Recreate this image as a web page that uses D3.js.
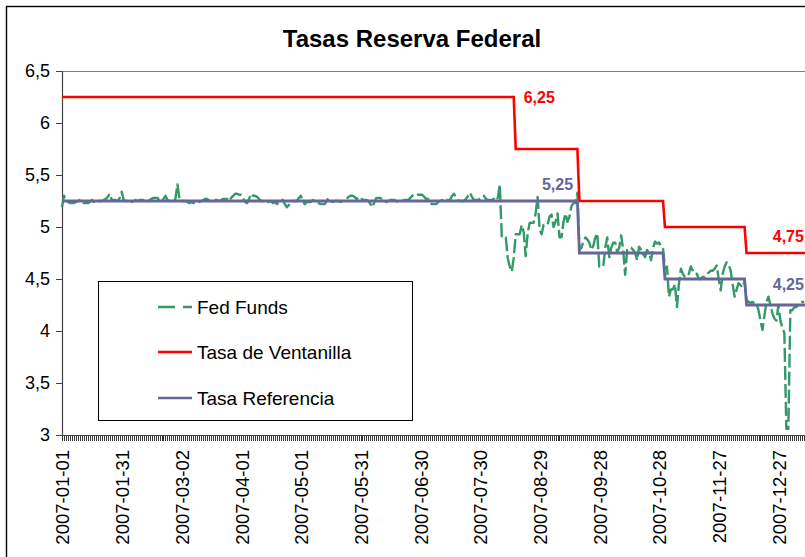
<!DOCTYPE html>
<html><head><meta charset="utf-8">
<script src="https://cdn.jsdelivr.net/npm/d3@7"></script>
<style>body{margin:0;background:#fff}svg{display:block}text{font-family:"Liberation Sans",Arial,sans-serif}</style>
</head><body><svg id="c" width="805" height="557"></svg>
<script>
// ---------- DATA ----------
const startDate = "2007-01-01";
const seriesEnd = "2008-01-10";
// Fed Funds effective rate, one value per calendar day from 2007-01-01
const fedFunds = [
  // Jan
  5.19,5.30,5.27,5.24,5.23,5.23,5.23,5.24,5.25,5.26,5.24,5.23,5.23,5.23,5.24,5.26,5.24,5.25,5.25,5.25,5.25,5.26,5.27,5.29,5.32,5.26,5.26,5.26,5.25,5.28,5.34,
  // Feb
  5.26,5.25,5.25,5.25,5.24,5.25,5.26,5.25,5.26,5.26,5.26,5.25,5.24,5.26,5.27,5.28,5.28,5.28,5.25,5.24,5.27,5.30,5.26,5.25,5.25,5.24,5.27,5.41,
  // Mar
  5.28,5.25,5.25,5.25,5.24,5.23,5.24,5.23,5.24,5.24,5.24,5.25,5.26,5.27,5.27,5.25,5.25,5.25,5.26,5.26,5.25,5.26,5.27,5.27,5.27,5.25,5.28,5.30,5.32,5.32,5.31,
  // Apr
  5.31,5.28,5.24,5.23,5.27,5.32,5.30,5.30,5.29,5.27,5.25,5.25,5.24,5.24,5.24,5.25,5.23,5.24,5.22,5.24,5.26,5.26,5.22,5.19,5.21,5.24,5.25,5.25,5.25,5.28,
  // May
  5.30,5.25,5.22,5.24,5.24,5.24,5.26,5.25,5.24,5.23,5.22,5.22,5.22,5.25,5.28,5.25,5.24,5.25,5.25,5.25,5.24,5.25,5.26,5.27,5.29,5.30,5.30,5.29,5.27,5.28,5.29,
  // Jun
  5.26,5.26,5.26,5.25,5.22,5.19,5.24,5.28,5.28,5.28,5.26,5.25,5.24,5.25,5.26,5.26,5.26,5.25,5.24,5.25,5.25,5.26,5.26,5.26,5.28,5.30,5.31,5.32,5.31,5.31,
  // Jul
  5.31,5.29,5.27,5.27,5.23,5.22,5.22,5.22,5.24,5.25,5.26,5.25,5.26,5.26,5.26,5.30,5.32,5.28,5.26,5.25,5.25,5.25,5.27,5.30,5.33,5.29,5.26,5.26,5.26,5.27,5.29,
  // Aug
  5.30,5.27,5.26,5.26,5.26,5.27,5.25,5.28,5.41,4.90,4.90,4.90,4.70,4.62,4.57,4.70,4.93,4.93,4.93,5.02,4.95,4.72,4.94,5.04,5.04,5.04,5.13,5.29,4.98,4.93,5.02,
  // Sep
  5.02,5.02,5.10,5.12,5.00,5.05,5.13,4.90,4.90,5.05,5.13,5.05,5.10,5.20,5.23,5.23,5.33,4.78,4.80,4.86,4.90,4.88,4.85,4.78,4.82,4.90,4.94,4.62,4.62,4.62,
  // Oct
  4.80,4.90,4.71,4.80,4.85,4.85,4.76,4.80,4.92,4.78,4.54,4.78,4.80,4.80,4.78,4.75,4.68,4.81,4.78,4.74,4.71,4.78,4.75,4.68,4.80,4.86,4.84,4.85,4.82,4.80,4.60,
  // Nov
  4.62,4.33,4.40,4.40,4.45,4.23,4.45,4.60,4.55,4.52,4.52,4.55,4.62,4.58,4.55,4.55,4.50,4.50,4.52,4.52,4.55,4.56,4.58,4.58,4.60,4.63,4.50,4.39,4.55,4.62,
  // Dec
  4.66,4.64,4.58,4.45,4.33,4.40,4.46,4.44,4.42,4.48,4.30,4.28,4.27,4.28,4.26,4.26,4.20,4.10,4.01,4.15,4.28,4.33,4.25,4.17,4.12,4.10,4.25,4.10,4.03,3.98,3.06,
  // Jan 2008
  3.06,4.20,4.20,4.23,4.23,4.25,4.27,4.28,4.28
];
const discountDates = ["2007-01-01","2007-08-17","2007-09-18","2007-10-31","2007-12-11"];
const discountRates = [6.25,5.75,5.25,5.00,4.75];
const targetDates = ["2007-01-01","2007-09-18","2007-10-31","2007-12-11"];
const targetRates = [5.25,4.75,4.50,4.25];
const yTicks = [3,3.5,4,4.5,5,5.5,6,6.5];
const xTickLabels = ["2007-01-01","2007-01-31","2007-03-02","2007-04-01","2007-05-01","2007-05-31","2007-06-30","2007-07-30","2007-08-29","2007-09-28","2007-10-28","2007-11-27","2007-12-27"];
const legendNames = ["Fed Funds","Tasa de Ventanilla","Tasa Referencia"];
const labelTexts = ["6,25","5,25","4,75","4,25"];
const labelDates = ["2007-08-16","2007-09-07","2008-01-01","2008-01-01"];
const labelValues = [6.25,5.25,4.75,4.25];

// ---------- CHART ----------
const colors = {fed:"#339966", disc:"#FF0000", target:"#666699"};
const svg = d3.select("#c");
const parse = d3.utcParse("%Y-%m-%d");
const t0 = parse(startDate);
const tEnd = parse(seriesEnd);
const x = d3.scaleUtc().domain([t0, parse("2008-01-01")]).range([62, 62 + 365 * 1.99]);
const y = d3.scaleLinear().domain([3, 6.5]).range([435, 71]);
const locale = d3.formatLocale({decimal: ",", thousands: ".", grouping: [3], currency: ["", ""]});
const fmt = v => locale.format("~g")(v);

// outer frame
svg.append("rect").attr("x", 6.5).attr("y", 6.5).attr("width", 1000).attr("height", 1000)
  .attr("fill", "#fff").attr("stroke", "#000").attr("stroke-width", 1.4);

// title
svg.append("text").attr("x", 412).attr("y", 47).attr("text-anchor", "middle")
  .style("font-size", "24px").style("font-weight", "bold").text("Tasas Reserva Federal");

// plot top border
svg.append("line").attr("x1", 62).attr("x2", 805).attr("y1", 71.5).attr("y2", 71.5)
  .attr("stroke", "#808080").attr("stroke-width", 1);

// y axis
const yAxis = svg.append("g").attr("transform", "translate(62,0)")
  .call(d3.axisLeft(y).tickValues(yTicks).tickSize(6).tickSizeOuter(0).tickPadding(6).tickFormat(fmt));
yAxis.select(".domain").attr("stroke", "#444").attr("stroke-width", 1.2);
yAxis.selectAll(".tick line").attr("stroke", "#444");
yAxis.selectAll(".tick text").style("font-size", "18px").attr("fill", "#000")
  .style("font-family", '"Liberation Sans",Arial,sans-serif');

// x axis
svg.append("line").attr("x1", 62).attr("x2", 805).attr("y1", 435.5).attr("y2", 435.5)
  .attr("stroke", "#444").attr("stroke-width", 1.2);
const days = d3.utcDay.range(t0, tEnd);
svg.append("g").selectAll("line").data(days).join("line")
  .attr("x1", d => Math.round(x(d)) + 0.5).attr("x2", d => Math.round(x(d)) + 0.5)
  .attr("y1", 436).attr("y2", 441).attr("stroke", "#333").attr("stroke-width", 1)
  .attr("shape-rendering", "crispEdges");
svg.append("g").selectAll("text").data(xTickLabels).join("text")
  .attr("transform", d => `translate(${x(parse(d)) + 1},450) rotate(-90)`)
  .attr("text-anchor", "end").attr("dy", "0.35em")
  .style("font-size", "18.5px").text(d => d);

// series
const line = d3.line().x(d => x(d[0])).y(d => y(d[1]));
const fedPts = fedFunds.map((v, i) => [d3.utcDay.offset(t0, i), v]);
function stepPoints(dates, rates) {
  const pts = [];
  dates.forEach((d, i) => {
    const s = parse(d);
    const e = i < dates.length - 1 ? d3.utcDay.offset(parse(dates[i + 1]), -1) : tEnd;
    pts.push([s, rates[i]], [e, rates[i]]);
  });
  return pts;
}
svg.append("path").datum(fedPts).attr("d", line).attr("fill", "none")
  .attr("stroke", colors.fed).attr("stroke-width", 2.4).attr("stroke-dasharray", "14,4")
  .attr("stroke-linejoin", "round");
svg.append("path").datum(stepPoints(discountDates, discountRates)).attr("d", line).attr("fill", "none")
  .attr("stroke", colors.disc).attr("stroke-width", 2.6);
svg.append("path").datum(stepPoints(targetDates, targetRates)).attr("d", line).attr("fill", "none")
  .attr("stroke", colors.target).attr("stroke-width", 2.8);

// data labels
const labelColors = [colors.disc, colors.target, colors.disc, colors.target];
labelTexts.forEach((t, i) => {
  const px = x(parse(labelDates[i])), py = y(labelValues[i]);
  const first = i === 0;
  svg.append("text")
    .attr("x", first ? px + 10 : px)
    .attr("y", first ? py : py - (i === 3 ? 21 : 17))
    .attr("dy", "0.35em")
    .attr("text-anchor", first ? "start" : "middle")
    .attr("fill", labelColors[i])
    .style("font-size", "16px").style("font-weight", "bold").text(t);
});

// legend
const lg = svg.append("g");
lg.append("rect").attr("x", 98.5).attr("y", 281.5).attr("width", 314).attr("height", 139)
  .attr("fill", "#fff").attr("stroke", "#000").attr("stroke-width", 1);
const legColors = [colors.fed, colors.disc, colors.target];
const legDash = ["17,8", null, null];
const legY = [307, 352, 398];
legendNames.forEach((n, i) => {
  lg.append("line").attr("x1", 158).attr("x2", 192).attr("y1", legY[i]).attr("y2", legY[i])
    .attr("stroke", legColors[i]).attr("stroke-width", 2.6).attr("stroke-dasharray", legDash[i]);
  lg.append("text").attr("x", 197).attr("y", legY[i]).attr("dy", "0.35em")
    .style("font-size", "19px").text(n);
});
</script></body></html>
